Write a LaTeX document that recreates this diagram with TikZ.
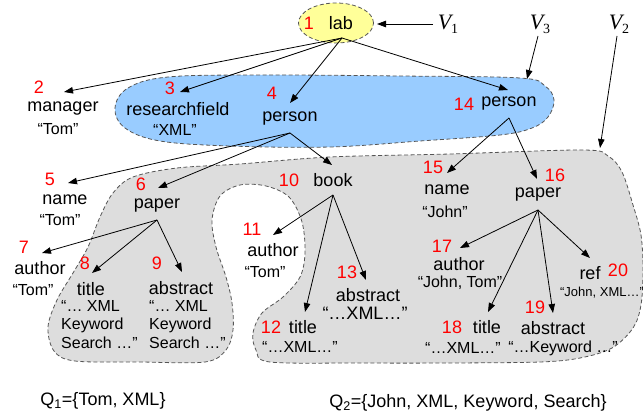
\documentclass[tikz,border=0pt]{standalone}
\usepackage{fontspec}
\setmainfont{Liberation Sans}
\newfontfamily\vfont{Liberation Serif}
\usetikzlibrary{arrows.meta,shapes.geometric}

\definecolor{labyellow}{HTML}{FFFF99}
\definecolor{vblue}{HTML}{99CCFF}
\definecolor{vgray}{HTML}{DDDDDD}
\definecolor{rim}{HTML}{555555}

\begin{document}
\begin{tikzpicture}[x=1pt,y=-1pt,
  lbl/.style={inner sep=0pt, font=\fontsize{18}{20}\selectfont},
  qt/.style={inner sep=0pt, font=\fontsize{16}{18}\selectfont},
  sqt/.style={inner sep=0pt, font=\fontsize{13}{15}\selectfont},
  num/.style={inner sep=0pt, text=red, font=\fontsize{18}{20}\selectfont},
  vlbl/.style={inner sep=0pt, font=\vfont\fontsize{22}{24}\selectfont\itshape},
  block/.style={inner sep=0pt, align=left, font=\fontsize{16}{18.5}\selectfont},
  edge/.style={draw=black, line width=0.8pt, -{Triangle[length=9pt,width=6.5pt]}},
  region/.style={draw=rim, line width=0.8pt, dash pattern=on 4pt off 2.5pt}]

\useasboundingbox (0,0) rectangle (643,417);

% region V3 (blue)
\path[region, fill=vblue] plot[smooth cycle, tension=0.6] coordinates {
  (115,108) (128,88) (168,77) (260,75) (400,76) (520,78) (545,86) (554,100)
  (548,117) (532,128) (500,135) (420,141) (330,147) (230,146) (160,141) (125,128)};

% region V2 (gray) with the hole around "author 11"
\path[region, fill=vgray] plot[smooth cycle, tension=0.55] coordinates {
  (133,177) (177,168) (240,164) (330,157) (450,154) (583,150) (608,156)
  (622,172) (633,205) (641,235) (643,270) (641,305) (633,328) (612,348)
  (580,358) (540,362) (450,363) (360,363) (270,362) (256,350) (253,333)
  (262,313) (283,297) (300,277) (305,253) (302,222) (289,197) (266,186)
  (240,185) (220,196) (212,220) (216,247) (226,277) (232,303) (233,330)
  (226,350) (205,362) (140,362) (75,361) (54,351) (48,327) (57,300)
  (73,273) (88,247) (100,217) (113,193)};

% root
\node[ellipse, region, fill=labyellow, minimum width=75pt, minimum height=40pt, inner sep=0pt] (labbox) at (336,23) {};
\node[num] (n1) at (309,23) {1};
\node[lbl] (lab) at (341,23) {lab};

% view labels
\node[vlbl] (V1) at (448,24) {V{\upshape\fontsize{14}{16}\selectfont\raisebox{-4pt}{1}}};
\node[vlbl] (V3) at (540,24) {V{\upshape\fontsize{14}{16}\selectfont\raisebox{-4pt}{3}}};
\node[vlbl] (V2) at (619,24) {V{\upshape\fontsize{14}{16}\selectfont\raisebox{-4pt}{2}}};

% first level
\node[num] (n2) at (39,87) {2};
\node[lbl] (manager) at (63,109) {manager};
\node[qt] (managerv) at (58,129) {“Tom”};
\node[num] (n3) at (170,88) {3};
\node[lbl] (rfield) at (178,109) {researchfield};
\node[qt] (rfieldv) at (175,130) {“XML”};
\node[num] (n4) at (272,93) {4};
\node[lbl] (personA) at (290,119) {person};
\node[num] (n14) at (464,104) {14};
\node[lbl] (personB) at (509,104) {person};

% children of person 4
\node[num] (n5) at (50,179) {5};
\node[lbl] (nameA) at (65,200) {name};
\node[qt] (nameAv) at (60,220) {“Tom”};
\node[num] (n6) at (141,184) {6};
\node[lbl] (paperA) at (157,206) {paper};
\node[num] (n10) at (289,180) {10};
\node[lbl] (book) at (333,180) {book};

% children of paper 6
\node[num] (n7) at (24,247) {7};
\node[lbl] (authA) at (40,268) {author};
\node[qt] (authAv) at (33,290) {“Tom”};
\node[num] (n8) at (85,263) {8};
\node[lbl] (titleA) at (91,289) {title};
\node[block, anchor=north west] (titleAv) at (61,300) {“… XML\\Keyword\\Search …”};
\node[num] (n9) at (157,263) {9};
\node[lbl] (absA) at (181,288) {abstract};
\node[block, anchor=north west] (absAv) at (149,300) {“… XML\\Keyword\\Search …”};

% children of book
\node[num] (n11) at (252,229) {11};
\node[lbl] (authB) at (273,250) {author};
\node[qt] (authBv) at (265,272) {“Tom”};
\node[num] (n12) at (271,327) {12};
\node[lbl] (titleB) at (303,327) {title};
\node[qt] (titleBv) at (300,347) {“…XML…”};
\node[num] (n13) at (347,272) {13};
\node[lbl] (absB) at (368,295) {abstract};
\node[lbl] (absBv) at (365,313) {“…XML…”};

% children of person 14
\node[num] (n15) at (433,167) {15};
\node[lbl] (nameB) at (447,190) {name};
\node[qt] (nameBv) at (445,212) {“John”};
\node[num] (n16) at (555,175) {16};
\node[lbl] (paperB) at (538,195) {paper};

% children of paper 16
\node[num] (n17) at (442,246) {17};
\node[lbl] (authC) at (459,264) {author};
\node[qt] (authCv) at (460,283) {“John, Tom”};
\node[num] (n18) at (452,327) {18};
\node[lbl] (titleC) at (487,327) {title};
\node[qt] (titleCv) at (463,348) {“…XML…”};
\node[num] (n19) at (535,307) {19};
\node[lbl] (absC) at (553,328) {abstract};
\node[qt] (absCv) at (563,348) {“…Keyword …”};
\node[lbl] (refC) at (590,273) {ref};
\node[num] (n20) at (618,270) {20};
\node[sqt] (refCv) at (602,293) {“John, XML…”};

% queries
\node[lbl] (Q1) at (103,401) {Q\textsubscript{1}=\{Tom, XML\}};
\node[lbl] (Q2) at (468,403) {Q\textsubscript{2}=\{John, XML, Keyword, Search\}};

% edge end points
\coordinate (lab-o) at (342,38);
\coordinate (personA-o) at (290,133);
\coordinate (personB-o) at (509,118);
\coordinate (paperA-o) at (157,220);
\coordinate (book-o) at (333,195);
\coordinate (paperB-o) at (538,210);

\coordinate (manager-i) at (64,92);
\coordinate (rfield-i) at (180,92);
\coordinate (personA-i) at (290,103);
\coordinate (personB-i) at (508,90);
\coordinate (nameA-i) at (68,183);
\coordinate (paperA-i) at (158,188);
\coordinate (book-i) at (332,165);
\coordinate (nameB-i) at (447,173);
\coordinate (paperB-i) at (537,179);
\coordinate (authA-i) at (42,253);
\coordinate (titleA-i) at (92,273);
\coordinate (absA-i) at (182,272);
\coordinate (authB-i) at (273,235);
\coordinate (titleB-i) at (305,312);
\coordinate (absB-i) at (366,280);
\coordinate (authC-i) at (460,248);
\coordinate (titleC-i) at (488,312);
\coordinate (absC-i) at (553,313);
\coordinate (refC-i) at (590,258);

\coordinate (V1-o) at (433,24);
\coordinate (V1-i) at (377,24);
\coordinate (V3-o) at (538,36);
\coordinate (V3-i) at (527,79);
\coordinate (V2-o) at (617,36);
\coordinate (V2-i) at (600,148);

% tree edges
\draw[edge] (lab-o) -- (manager-i);
\draw[edge] (lab-o) -- (rfield-i);
\draw[edge] (lab-o) -- (personA-i);
\draw[edge] (lab-o) -- (personB-i);
\draw[edge] (personA-o) -- (nameA-i);
\draw[edge] (personA-o) -- (paperA-i);
\draw[edge] (personA-o) -- (book-i);
\draw[edge] (personB-o) -- (nameB-i);
\draw[edge] (personB-o) -- (paperB-i);
\draw[edge] (paperA-o) -- (authA-i);
\draw[edge] (paperA-o) -- (titleA-i);
\draw[edge] (paperA-o) -- (absA-i);
\draw[edge] (book-o) -- (authB-i);
\draw[edge] (book-o) -- (titleB-i);
\draw[edge] (book-o) -- (absB-i);
\draw[edge] (paperB-o) -- (authC-i);
\draw[edge] (paperB-o) -- (titleC-i);
\draw[edge] (paperB-o) -- (absC-i);
\draw[edge] (paperB-o) -- (refC-i);

% view pointers
\draw[edge] (V1-o) -- (V1-i);
\draw[edge] (V3-o) -- (V3-i);
\draw[edge] (V2-o) -- (V2-i);
\end{tikzpicture}
\end{document}
